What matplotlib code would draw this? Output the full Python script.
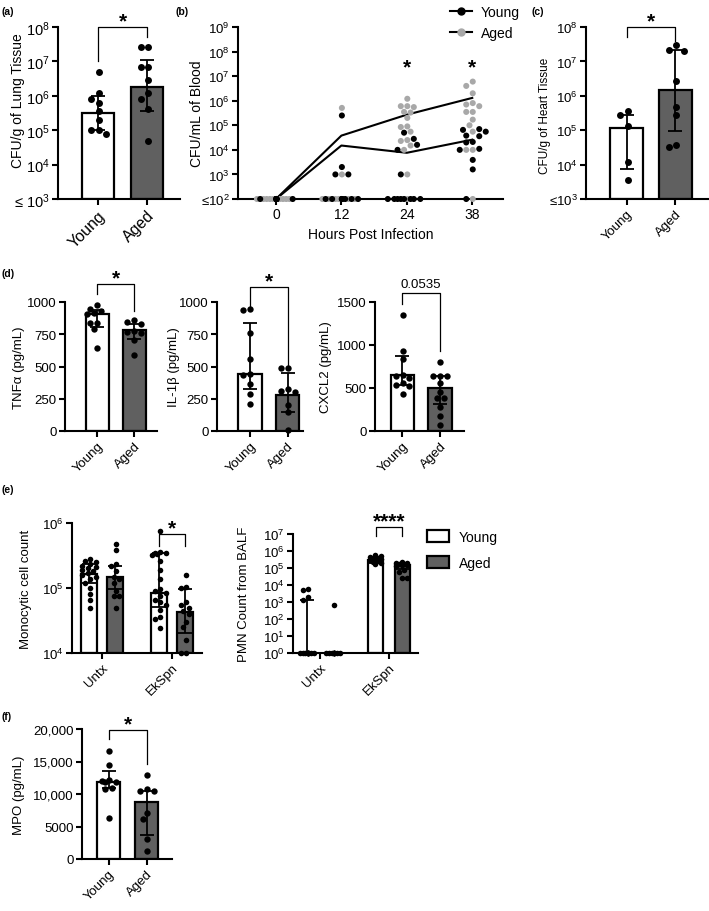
import numpy as np
import matplotlib
matplotlib.use("Agg")
import matplotlib.pyplot as plt
from matplotlib.lines import Line2D
from matplotlib.patches import Patch

plt.rcParams["font.family"] = ["Liberation Sans", "DejaVu Sans"]
plt.rcParams["mathtext.fontset"] = "custom"
plt.rcParams["mathtext.rm"] = "Liberation Sans"
plt.rcParams["mathtext.it"] = "Liberation Sans:italic"
plt.rcParams["mathtext.bf"] = "Liberation Sans:bold"

# ── data ─────────────────────────────────────────────────────────────────────
groups = ["Young", "Aged"]

# (a) lung CFU
lung_young = [5.0e6, 1.2e6, 8e5, 6e5, 3.5e5, 2e5, 1.0e5, 1.0e5, 8e4]
lung_aged = [2.7e7, 2.6e7, 7e6, 7e6, 2.8e6, 1.2e6, 8e5, 4e5, 5e4]
lung_bar = [3.2e5, 1.8e6]
lung_lo = [1.0e5, 3.7e5]
lung_hi = [1.0e6, 1.1e7]

# (b) blood CFU over time
hours = ["0", "12", "24", "38"]
blood_young_line = [1e2, 1.5e4, 7.6e3, 2.6e4]
blood_aged_line = [1e2, 3.8e4, 2.7e5, 1.3e6]
blood_young = [
    [100, 100, 100, 100, 100, 100, 100, 100, 100, 100],
    [2.5e5, 2e3, 1e3, 1e3, 100, 100, 100, 100, 100, 100, 100, 100],
    [5e4, 2.8e4, 1.6e4, 1e4, 1e3, 100, 100, 100, 100, 100, 100, 100, 100],
    [7e4, 6.5e4, 5.5e4, 3.8e4, 3.6e4, 2.1e4, 2e4, 1.1e4, 1e4, 3.9e3, 1.6e3, 100],
]
blood_aged = [
    [100, 100, 100, 100, 100, 100, 100, 100, 100, 100],
    [5.1e5, 1e3, 100, 100, 100, 100, 100, 100, 100],
    [1.2e6, 6e5, 6e5, 5.5e5, 3.5e5, 3.3e5, 2e5, 9e4, 8.5e4, 5.5e4, 2.5e4, 2.3e4,
     1.5e4, 1e4, 1e3, 100],
    [6e6, 4e6, 2e6, 8e5, 7e5, 6e5, 3.5e5, 3.5e5, 1.7e5, 1e5, 5.5e4, 1e4, 1e4, 100],
]

# (c) heart CFU
heart_young = [3.5e5, 2.7e5, 1.3e5, 1.2e4, 3.6e3]
heart_aged = [2.9e7, 2.2e7, 2.0e7, 2.7e6, 4.6e5, 2.8e5, 3.8e4, 3.3e4]
heart_bar = [1.15e5, 1.5e6]
heart_lo = [7.5e3, 9.8e4]
heart_hi = [2.8e5, 2.1e7]

# (d) cytokines
tnf_young = [977, 948, 930, 917, 905, 840, 840, 793, 646]
tnf_aged = [858, 848, 832, 775, 767, 762, 705, 587]
tnf_bar = [904, 780]
tnf_lo = [809, 710]
tnf_hi = [938, 832]

il1b_young = [948, 938, 757, 561, 439, 431, 362, 289, 212]
il1b_aged = [490, 485, 325, 310, 300, 200, 145, 5]
il1b_bar = [440, 279]
il1b_lo = [328, 147]
il1b_hi = [840, 450]

cxcl2_young = [1350, 930, 840, 650, 640, 620, 560, 540, 520, 430]
cxcl2_aged = [800, 645, 645, 640, 555, 450, 380, 380, 280, 175, 75]
cxcl2_bar = [652, 497]
cxcl2_lo = [536, 316]
cxcl2_hi = [875, 644]

# (e) cell counts
treatments = ["Untx", "EkSpn"]
mono_untx_young = [2.8e5, 2.6e5, 2.5e5, 2.3e5, 2.2e5, 2.1e5, 2.0e5, 1.9e5, 1.8e5,
                   1.7e5, 1.6e5, 1.5e5, 1.4e5, 1.2e5, 1.0e5, 8e4, 6.5e4, 5e4]
mono_untx_aged = [4.8e5, 3.8e5, 2.3e5, 2.2e5, 1.8e5, 1.5e5, 1.4e5, 1.2e5, 9e4,
                  7.5e4, 7.5e4, 5e4]
mono_ek_young = [7.6e5, 3.6e5, 3.5e5, 3.4e5, 3.3e5, 3.2e5, 2.6e5, 1.9e5, 1.4e5,
                 9.5e4, 9e4, 8.5e4, 7.5e4, 6.5e4, 6e4, 5.5e4, 4.6e4, 3.6e4, 3.3e4, 2.4e4]
mono_ek_aged = [1.6e5, 1.05e5, 1.0e5, 6e4, 5.5e4, 5e4, 4.5e4, 4e4, 3e4, 2.5e4,
                1.6e4, 1e4, 1e4]
mono_bar_young = [1.63e5, 8.5e4]
mono_bar_aged = [1.5e5, 4.2e4]
mono_lo_young = [1.2e5, 5.1e4]
mono_hi_young = [2.3e5, 3.5e5]
mono_lo_aged = [9.5e4, 2e4]
mono_hi_aged = [2.2e5, 9.5e4]

pmn_untx_young = [6e3, 5e3, 2e3, 1.3e3, 1, 1, 1, 1, 1, 1, 1, 1, 1, 1, 1, 1]
pmn_untx_aged = [7e2, 1, 1, 1, 1, 1, 1, 1, 1, 1, 1, 1]
pmn_ek_young = [6e5, 5e5, 4.5e5, 4e5, 3.5e5, 3.2e5, 3e5, 2.8e5, 2.5e5, 2.2e5, 2e5, 1.8e5]
pmn_ek_aged = [2.2e5, 2e5, 1.9e5, 1.8e5, 1.7e5, 1.6e5, 1.5e5, 1.4e5, 8e4, 6e4, 2.5e4, 2.5e4]
pmn_bar_young = [1, 3.0e5]
pmn_bar_aged = [1, 1.5e5]
pmn_lo_young = [1, 2e5]
pmn_hi_young = [1.3e3, 4.5e5]
pmn_lo_aged = [1, 9e4]
pmn_hi_aged = [1, 2e5]

# (f) MPO
mpo_young = [16600, 14400, 12200, 12000, 11900, 11800, 11000, 10800, 6300]
mpo_aged = [12900, 10800, 10500, 10400, 7100, 6200, 3100, 1200]
mpo_bar = [11800, 8700]
mpo_lo = [11000, 3700]
mpo_hi = [13600, 10500]

# ── style ────────────────────────────────────────────────────────────────────
W, H = 709, 912
FS = 9.5
BAR_Y = "white"
BAR_A = "#606060"
PT_GRAY = "#a8a8a8"

fig = plt.figure(figsize=(W / 100, H / 100), dpi=100)


def px_axes(l, t, r, b):
    return fig.add_axes([l / W, 1 - b / H, (r - l) / W, (b - t) / H])


def style(ax, fs=FS):
    for s in ["top", "right"]:
        ax.spines[s].set_visible(False)
    for s in ["left", "bottom"]:
        ax.spines[s].set_linewidth(1.5)
    ax.tick_params(width=1.5, length=4, labelsize=fs, pad=2)
    ax.minorticks_off()


def ylab(ax, text, x, fs=FS, y=0.5):
    # x = right edge of the rotated label, in axes fraction
    ax.set_ylabel(text, fontsize=fs)
    ax.yaxis.set_label_coords(x, y)


def log_ticks(ax, e0, e1, floor_label=None):
    ticks = [10.0 ** e for e in range(e0, e1 + 1)]
    labels = [r"$\mathregular{10^{%d}}$" % e for e in range(e0, e1 + 1)]
    if floor_label:
        labels[0] = floor_label
    ax.set_yticks(ticks)
    ax.set_yticklabels(labels)
    ax.minorticks_off()


def swarm(ax, xc, vals, d, maxw):
    """simple beeswarm: returns x positions (data units)"""
    placed = []
    xs = []
    x0 = ax.transData.transform((xc, vals[0]))[0]
    cands = sorted(np.arange(-maxw, maxw + 0.01, d / 2.0), key=abs)
    inv = ax.transData.inverted()
    for v in vals:
        y = ax.transData.transform((xc, v))[1]
        best, score = 0.0, -1
        for c in cands:
            m = min([np.hypot(c - px, y - py) for px, py in placed], default=1e9)
            if m >= d * 0.95:
                best = c
                break
            if m > score:
                score, best = m, c
        placed.append((best, y))
        xs.append(inv.transform((x0 + best, y))[0])
    return xs


def bars(ax, pos, heights, lo, hi, colors, width, bottom=0):
    h = np.array(heights, dtype=float)
    ax.bar(pos, h - bottom, width, bottom=bottom, color=colors,
           edgecolor="black", linewidth=1.6, zorder=1)
    ax.errorbar(pos, h, yerr=[h - np.array(lo), np.array(hi) - h], fmt="none",
                ecolor="black", elinewidth=1.3, capsize=5, capthick=1.3, zorder=3)


def points(ax, xc, vals, s, d, maxw, color="black"):
    xs = swarm(ax, xc, vals, d, maxw)
    ax.scatter(xs, vals, s=s, color=color, linewidths=0, zorder=4, clip_on=False)


def bracket(ax, x1, x2, ytop, y1, y2, label="*", fs=15):
    ax.plot([x1, x1, x2, x2], [y1, ytop, ytop, y2], color="black", lw=0.9,
            clip_on=False, zorder=5)
    if label.startswith("*"):
        ax.annotate(label, xy=((x1 + x2) / 2, ytop), xytext=(0, 0.5),
                    textcoords="offset points", ha="center", va="baseline",
                    fontsize=fs, fontweight="bold", annotation_clip=False)
    else:
        ax.annotate(label, xy=((x1 + x2) / 2, ytop), xytext=(0, 2.5),
                    textcoords="offset points", ha="center", va="bottom",
                    fontsize=FS, annotation_clip=False)


def group_xticks(ax, labels, fs=FS):
    ax.set_xticks(range(len(labels)))
    ax.set_xticklabels(labels, rotation=45, ha="right", rotation_mode="anchor",
                       fontsize=fs)


# ═══ (a) lung ═══════════════════════════════════════════════════════════════
ax = px_axes(58, 28, 180, 200)
ax.set_yscale("log")
ax.set_ylim(1e3, 1e8)
ax.set_xlim(-0.816, 1.673)
style(ax, 10.5)
log_ticks(ax, 3, 8, r"≤ $\mathregular{10^{3}}$")
bars(ax, [0, 1], lung_bar, lung_lo, lung_hi, [BAR_Y, BAR_A], 0.65, bottom=1e3)
points(ax, 0, lung_young, 25, 7.5, 14)
points(ax, 1, lung_aged, 25, 7.5, 14)
group_xticks(ax, groups, 11.5)
ylab(ax, "CFU/g of Lung Tissue", (25 - 58) / 122, 10, 0.58)
bracket(ax, 0, 1, 1e8, 1.0e7, 5e7)

# ═══ (b) blood ══════════════════════════════════════════════════════════════
ax = px_axes(238, 28, 503, 200)
ax.set_yscale("log")
ax.set_ylim(1e2, 1e9)
ax.set_xlim(-0.58, 3.47)
style(ax)
log_ticks(ax, 2, 9, r"≤$\mathregular{10^{2}}$")
ax.plot(range(4), blood_aged_line, color="black", lw=1.5, zorder=2)
ax.plot(range(4), blood_young_line, color="black", lw=1.5, zorder=2)
for i in range(4):
    vals = blood_aged[i] + blood_young[i]
    cols = [PT_GRAY] * len(blood_aged[i]) + ["black"] * len(blood_young[i])
    xs = swarm(ax, i, vals, 6.5, 19)
    ax.scatter(xs, vals, s=19, c=cols, linewidths=0, zorder=4, clip_on=False)
ax.set_xticks(range(4))
ax.set_xticklabels(hours, fontsize=10)
ax.set_xlabel("Hours Post Infection", fontsize=10)
ylab(ax, "CFU/mL of Blood", (204 - 238) / 265, 10, 0.5)
for i in [2, 3]:
    ax.annotate("*", xy=(i, 4.4e7), xytext=(0, -8.6), textcoords="offset points",
                ha="center", va="baseline", fontsize=15, fontweight="bold")
leg_handles = [
    Line2D([], [], color="black", lw=1.5, marker="o", markersize=5,
           markerfacecolor="black", markeredgecolor="black"),
    Line2D([], [], color="black", lw=1.5, marker="o", markersize=5,
           markerfacecolor=PT_GRAY, markeredgecolor=PT_GRAY),
]
fig.legend(leg_handles, groups, loc="upper left", bbox_to_anchor=(450 / W, 1 - 6 / H),
           frameon=False, fontsize=10, handlelength=1.6, handletextpad=0.6,
           labelspacing=0.5, borderpad=0, borderaxespad=0)

# ═══ (c) heart ══════════════════════════════════════════════════════════════
ax = px_axes(586, 28, 708, 200)
ax.set_yscale("log")
ax.set_ylim(1e3, 1e8)
ax.set_xlim(-0.835, 1.68)
style(ax)
log_ticks(ax, 3, 8, r"≤$\mathregular{10^{3}}$")
bars(ax, [0, 1], heart_bar, heart_lo, heart_hi, [BAR_Y, BAR_A], 0.68, bottom=1e3)
points(ax, 0, heart_young, 25, 7.5, 14)
points(ax, 1, heart_aged, 25, 7.5, 14)
group_xticks(ax, groups)
ylab(ax, "CFU/g of Heart Tissue", (551 - 586) / 122, 8.5, 0.49)
bracket(ax, 0, 1, 1e8, 5e7, 4e7)

# ═══ (d) cytokines ══════════════════════════════════════════════════════════
cyto = [
    ((65, 303, 157, 432), (-0.865, 1.62), 1000, [0, 250, 500, 750, 1000],
     tnf_young, tnf_aged, tnf_bar, tnf_lo, tnf_hi, "TNFα (pg/mL)", -0.435,
     (1140, 1062, 930), "*"),
    ((217, 303, 303, 432), (-0.88, 1.41), 1000, [0, 250, 500, 750, 1000],
     il1b_young, il1b_aged, il1b_bar, il1b_lo, il1b_hi, "IL-1β (pg/mL)", -0.43,
     (1116, 970, 504), "*"),
    ((375, 303, 464, 432), (-0.73, 1.64), 1500, [0, 500, 1000, 1500],
     cxcl2_young, cxcl2_aged, cxcl2_bar, cxcl2_lo, cxcl2_hi, "CXCL2 (pg/mL)", -0.483,
     (1600, 1473, 930), "0.0535"),
]
for rect, xl, ymax, yt, yv, av, bv, lo, hi, lab, lx, br, sig in cyto:
    ax = px_axes(*rect)
    ax.set_ylim(0, ymax)
    ax.set_xlim(*xl)
    style(ax)
    ax.set_yticks(yt)
    bars(ax, [0, 1], bv, lo, hi, [BAR_Y, BAR_A], 0.62)
    points(ax, 0, yv, 21, 6.8, 10)
    points(ax, 1, av, 21, 6.8, 10)
    group_xticks(ax, groups)
    ylab(ax, lab, lx)
    bracket(ax, 0, 1, br[0], br[1], br[2], sig)

# ═══ (e) cell counts ════════════════════════════════════════════════════════
off = 0.186
ax = px_axes(72, 524, 202, 654)
ax.set_yscale("log")
ax.set_ylim(1e4, 1e6)
ax.set_xlim(-0.43, 1.43)
style(ax)
log_ticks(ax, 4, 6)
bars(ax, [-off, 1 - off], mono_bar_young, mono_lo_young, mono_hi_young, BAR_Y, 0.23, bottom=1e4)
bars(ax, [off, 1 + off], mono_bar_aged, mono_lo_aged, mono_hi_aged, BAR_A, 0.23, bottom=1e4)
points(ax, -off, mono_untx_young, 16, 5.5, 7)
points(ax, off, mono_untx_aged, 16, 5.5, 7)
points(ax, 1 - off, mono_ek_young, 16, 5.5, 7)
points(ax, 1 + off, mono_ek_aged, 16, 5.5, 7)
group_xticks(ax, treatments)
ylab(ax, "Monocytic cell count", (32 - 72) / 130)
bracket(ax, 1 - off, 1 + off, 6.8e5, 4.4e5, 4.4e5)

off = 0.19
ax = px_axes(293, 535, 418, 654)
ax.set_yscale("log")
ax.set_ylim(1, 1e7)
ax.set_xlim(-0.39, 1.42)
style(ax)
log_ticks(ax, 0, 7)
bars(ax, [-off, 1 - off], pmn_bar_young, pmn_lo_young, pmn_hi_young, BAR_Y, 0.22, bottom=1)
bars(ax, [off, 1 + off], pmn_bar_aged, pmn_lo_aged, pmn_hi_aged, BAR_A, 0.22, bottom=1)
points(ax, -off, pmn_untx_young, 16, 5.5, 7)
points(ax, off, pmn_untx_aged, 16, 5.5, 7)
points(ax, 1 - off, pmn_ek_young, 16, 5.5, 6)
points(ax, 1 + off, pmn_ek_aged, 16, 5.5, 6)
group_xticks(ax, treatments)
ylab(ax, "PMN Count from BALF", (250 - 293) / 125)
bracket(ax, 1 - off, 1 + off, 2.6e7, 7.6e6, 7.6e6, "****")

fig.legend([Patch(facecolor=BAR_Y, edgecolor="black", linewidth=1.6),
            Patch(facecolor=BAR_A, edgecolor="black", linewidth=1.6)], groups,
           loc="upper left", bbox_to_anchor=(427 / W, 1 - 531 / H), frameon=False,
           fontsize=10, handlelength=1.6, handleheight=0.9, handletextpad=0.7,
           labelspacing=0.85, borderpad=0, borderaxespad=0)

# ═══ (f) MPO ════════════════════════════════════════════════════════════════
ax = px_axes(82, 730, 172, 860)
ax.set_ylim(0, 20000)
ax.set_xlim(-0.7, 1.67)
style(ax)
ax.set_yticks([0, 5000, 10000, 15000, 20000])
ax.set_yticklabels(["0", "5000", "10,000", "15,000", "20,000"])
bars(ax, [0, 1], mpo_bar, mpo_lo, mpo_hi, [BAR_Y, BAR_A], 0.6)
points(ax, 0, mpo_young, 21, 6.8, 10)
points(ax, 1, mpo_aged, 21, 6.8, 10)
group_xticks(ax, groups)
ylab(ax, "MPO (pg/mL)", (25 - 82) / 90)
bracket(ax, 0, 1, 19850, 18460, 14600)

# ── panel letters ───────────────────────────────────────────────────────────
for lab, x, y in [("(a)", 2, 12), ("(b)", 176, 12), ("(c)", 531, 12),
                  ("(d)", 2, 274), ("(e)", 2, 490), ("(f)", 2, 717)]:
    fig.text(x / W, 1 - y / H, lab, fontsize=7.5, fontweight="bold", va="center")

fig.savefig("out.png", dpi=100, facecolor="white")
